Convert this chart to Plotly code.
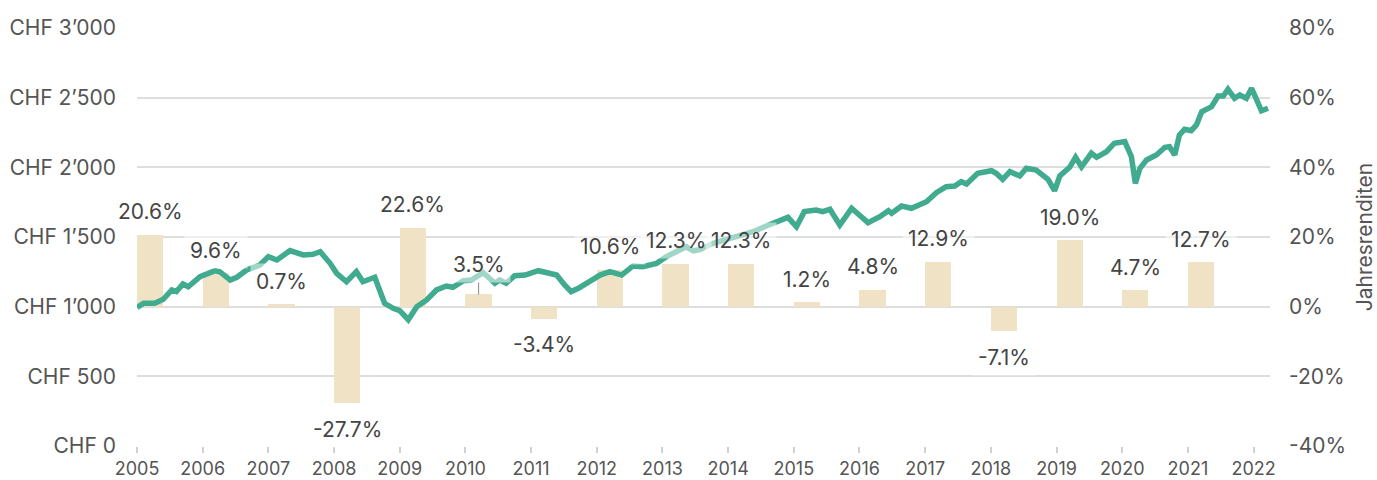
import plotly.graph_objects as go

# Annual returns (bars, right axis)
bar_years = list(range(2005, 2022))
bar_returns = [20.6, 9.6, 0.7, -27.7, 22.6, 3.5, -3.4, 10.6, 12.3, 12.3, 1.2, 4.8, 12.9, -7.1, 19.0, 4.7, 12.7]

# Portfolio value (line, left axis)
line_t = [2005.00, 2005.10, 2005.27, 2005.40, 2005.53, 2005.60, 2005.70, 2005.78, 2005.96, 2006.03,
          2006.19, 2006.26, 2006.42, 2006.52, 2006.67, 2006.87, 2007.00, 2007.13, 2007.33, 2007.53,
          2007.68, 2007.79, 2007.94, 2008.04, 2008.19, 2008.34, 2008.44, 2008.62, 2008.77, 2008.90,
          2009.00, 2009.13, 2009.26, 2009.41, 2009.56, 2009.71, 2009.81, 2009.97, 2010.09, 2010.27,
          2010.45, 2010.52, 2010.62, 2010.75, 2010.91, 2011.11, 2011.24, 2011.39, 2011.51, 2011.61,
          2011.72, 2011.84, 2012.05, 2012.20, 2012.38, 2012.55, 2012.70, 2012.91, 2013.06, 2013.21,
          2013.36, 2013.47, 2013.57, 2013.77, 2014.07, 2014.38, 2014.58, 2014.78, 2014.91, 2015.04,
          2015.16, 2015.34, 2015.44, 2015.55, 2015.70, 2015.88, 2016.13, 2016.31, 2016.44, 2016.49,
          2016.64, 2016.79, 2016.92, 2017.02, 2017.17, 2017.32, 2017.45, 2017.55, 2017.63, 2017.80,
          2018.01, 2018.08, 2018.18, 2018.29, 2018.44, 2018.54, 2018.69, 2018.82, 2018.87, 2018.97,
          2019.05, 2019.20, 2019.29, 2019.38, 2019.53, 2019.61, 2019.76, 2019.88, 2020.04, 2020.14,
          2020.20, 2020.27, 2020.37, 2020.52, 2020.65, 2020.72, 2020.80, 2020.87, 2020.95, 2021.05,
          2021.13, 2021.21, 2021.36, 2021.46, 2021.54, 2021.61, 2021.71, 2021.79, 2021.89, 2021.97,
          2022.12, 2022.22]
line_v = [995, 1024, 1024, 1053, 1120, 1108, 1163, 1143, 1215, 1227,
          1258, 1251, 1191, 1211, 1263, 1299, 1359, 1335, 1402, 1371,
          1376, 1394, 1311, 1239, 1179, 1251, 1179, 1211, 1024, 988,
          971, 906, 1000, 1048, 1120, 1148, 1139, 1186, 1191, 1244,
          1168, 1191, 1168, 1222, 1227, 1258, 1239, 1227, 1156, 1108,
          1132, 1168, 1227, 1251, 1227, 1292, 1287, 1311, 1359, 1394,
          1430, 1400, 1410, 1455, 1491, 1538, 1579, 1617, 1641, 1574,
          1682, 1694, 1682, 1699, 1586, 1706, 1603, 1646, 1689, 1670,
          1722, 1706, 1737, 1753, 1818, 1861, 1866, 1897, 1880, 1957,
          1976, 1957, 1914, 1969, 1938, 1993, 1981, 1928, 1914, 1832,
          1938, 2000, 2072, 2004, 2101, 2072, 2112, 2173, 2185, 2076,
          1885, 1993, 2053, 2089, 2144, 2148, 2089, 2232, 2273, 2263,
          2304, 2399, 2435, 2512, 2512, 2560, 2495, 2519, 2495, 2567,
          2406, 2424]

left_tickvals = [0, 500, 1000, 1500, 2000, 2500, 3000]
left_ticktext = ["CHF 0", "CHF 500", "CHF 1\u2019000", "CHF 1\u2019500", "CHF 2\u2019000", "CHF 2\u2019500", "CHF 3\u2019000"]
right_tickvals = [-40, -20, 0, 20, 40, 60, 80]
right_ticktext = ["-40%", "-20%", "0%", "20%", "40%", "60%", "80%"]
x_ticks = list(range(2005, 2023))

FONT = "Inter"
BAR_W = 0.4

fig = go.Figure()
fig.add_trace(go.Bar(
    x=[y + BAR_W / 2 for y in bar_years], y=bar_returns, width=BAR_W,
    marker=dict(color="#F0E2C4", line=dict(width=0)),
    yaxis="y", xaxis="x", hoverinfo="skip", showlegend=False,
))
fig.add_trace(go.Scatter(
    x=line_t, y=line_v, mode="lines",
    line=dict(color="#41AB8F", width=5.5, shape="linear"),
    yaxis="y2", xaxis="x", showlegend=False,
))

annotations = []
for yr, r in zip(bar_years, bar_returns):
    a = dict(x=yr + BAR_W / 2, y=r, xref="x", yref="y",
             text=f"{r:.1f}%", font=dict(family=FONT, size=21, color="#444444"),
             bgcolor="rgba(255,255,255,0.5)", borderpad=5)
    if yr == 2010:
        a.update(showarrow=True, arrowhead=0, arrowwidth=1.2, arrowcolor="#999999", ax=0, ay=-30)
    else:
        a.update(showarrow=False, yshift=23 if r >= 0 else -26)
    annotations.append(a)

fig.update_layout(
    width=1377, height=480,
    margin=dict(l=137, r=107, t=28, b=34, autoexpand=False),
    paper_bgcolor="white", plot_bgcolor="white",
    font=dict(family=FONT, size=18, color="#555555"),
    bargap=0,
    xaxis=dict(range=[2005, 2022.25], tickvals=x_ticks, ticktext=[str(x) for x in x_ticks],
               showgrid=False, zeroline=False, showline=False, automargin=False,
               ticks="outside", ticklen=6, tickwidth=1.5, tickcolor="#d0d0d0",
               ticklabelstandoff=0,
               tickfont=dict(family=FONT, size=18, color="#555555")),
    yaxis=dict(range=[-40, 80], tickvals=right_tickvals, ticktext=right_ticktext, side="right",
               showgrid=True, gridcolor="#dedede", gridwidth=2, zeroline=False, showline=False,
               ticks="", ticklabelstandoff=18, automargin=False,
               tickfont=dict(family=FONT, size=21, color="#555555"),
               title=dict(text="Jahresrenditen", font=dict(family=FONT, size=21, color="#555555"), standoff=16)),
    yaxis2=dict(range=[0, 3000], tickvals=left_tickvals, ticktext=left_ticktext, side="left",
                overlaying="y", showgrid=False, zeroline=False, showline=False,
                ticks="", ticklabelstandoff=20, automargin=False,
                tickfont=dict(family=FONT, size=21, color="#555555")),
    annotations=annotations,
)

fig.write_html("out.html", config={"displayModeBar": False},
               post_script="document.body.style.margin='0';document.body.style.overflow='hidden';")
